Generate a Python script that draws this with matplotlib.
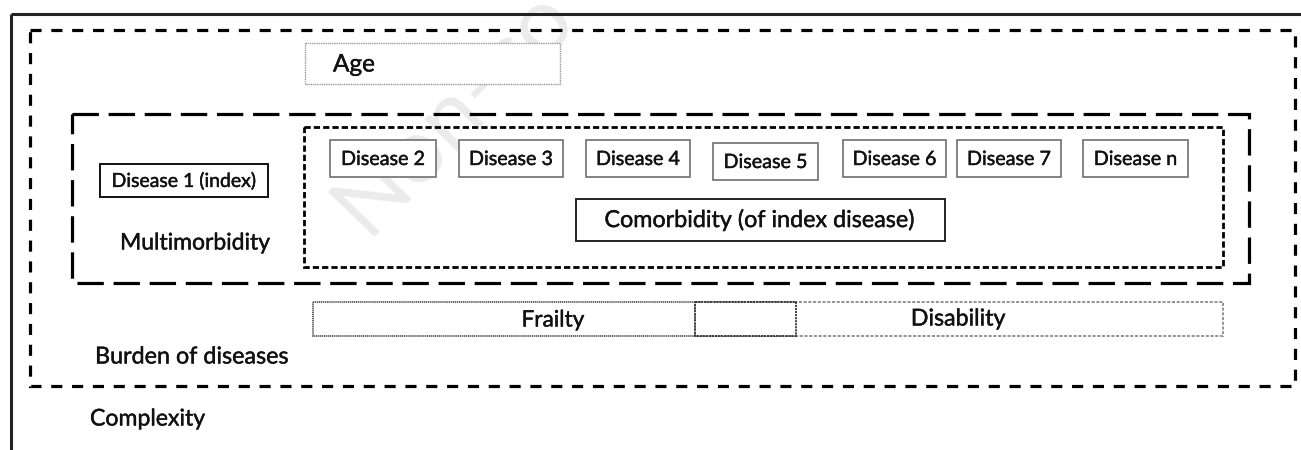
import matplotlib.pyplot as plt
import matplotlib.patheffects as pe
from matplotlib.patches import Rectangle

plt.rcParams['font.family'] = ['Lato', 'DejaVu Sans']
plt.rcParams['lines.scale_dashes'] = False

# labels
disease_labels = ['Disease 2', 'Disease 3', 'Disease 4', 'Disease 5',
                  'Disease 6', 'Disease 7', 'Disease n']
index_label = 'Disease 1 (index)'
comorb_label = 'Comorbidity (of index disease)'
group_labels = ['Multimorbidity', 'Burden of diseases', 'Complexity']
outcome_labels = ['Frailty', 'Disability']

# layout in pixels (x0, x1) / (y0, y1)
disease_x = [(330, 436), (459, 563), (586, 690), (713, 818),
             (843, 946), (957, 1061), (1083, 1188)]
disease_y = [(140, 177), (140, 177), (140, 177), (143, 180),
             (140, 177), (140, 177), (140, 177)]

fig = plt.figure(figsize=(13.01, 4.5), dpi=100)
ax = fig.add_axes([0, 0, 1, 1])
ax.set_xlim(0, 1301)
ax.set_ylim(450, 0)
ax.axis('off')

# slightly heavier strokes, like the blurry source text
heavy = [pe.withStroke(linewidth=0.3, foreground='#111111')]


def label(x, y, s, size, ha='center', z=5):
    ax.text(x, y, s, fontsize=size, ha=ha, va='center', color='#111111',
            zorder=z, path_effects=heavy)


def box(x0, y0, x1, y1, ec='black', lw=1.0, ls='-', z=2):
    r = Rectangle((x0, y0), x1 - x0, y1 - y0, facecolor='none', edgecolor=ec,
                  lw=lw, ls=ls, zorder=z, joinstyle='miter')
    ax.add_patch(r)


def filled(x0, y0, x1, y1, ec, lw, ls, z=3):
    r = Rectangle((x0, y0), x1 - x0, y1 - y0, facecolor='white', edgecolor=ec,
                  lw=lw, ls=ls, zorder=z)
    ax.add_patch(r)


# watermark, only its visible part
ax.text(318, 232, 'Non-co', rotation=46, fontsize=66,
        color='#ebebeb', ha='left', va='baseline', zorder=1)

# solid outer frame (top + left only visible)
ax.plot([11, 1301], [14, 14], color='#222222', lw=2.2, zorder=2,
        solid_capstyle='butt')
ax.plot([11, 11], [14, 450], color='#222222', lw=2.2, zorder=2,
        solid_capstyle='butt')

# burden of diseases
box(30, 30, 1295, 386, lw=2.3, ls=(0, (8, 7)))
# multimorbidity
box(72, 114, 1249, 283, lw=2.3, ls=(0, (19, 7)))
# comorbidity
box(304, 127, 1223, 267, lw=2.0, ls=(0, (4.5, 2.2)))

# age
filled(305, 43, 560, 84, '#9a9a9a', 1.0, (0, (1, 0.6)))
label(333, 65, 'Age', 17.5, ha='left')

# index disease
filled(100, 164, 268, 197, '#111111', 1.4, '-')
label(184, 181, index_label, 14)

for lab, (x0, x1), (y0, y1) in zip(disease_labels, disease_x, disease_y):
    filled(x0, y0, x1, y1, '#707070', 1.2, '-')
    label((x0 + x1) / 2, (y0 + y1) / 2 + 1, lab, 14.2)

filled(576, 199, 945, 241, '#222222', 1.4, '-')
label(760, 220, comorb_label, 16.8)

label(120, 243, group_labels[0], 16.5, ha='left')
label(95, 357, group_labels[1], 16.8, ha='left')
label(90, 419, group_labels[2], 16.6, ha='left')

# frailty / disability
filled(313, 302, 796, 336, '#555555', 1.3, (0, (0.9, 0.5)), z=3)
filled(695, 302, 1223, 336, '#8a8a8a', 1.3, (0, (2.2, 1.2)), z=3)
box(695, 302, 796, 336, ec='#333333', lw=1.3, ls=(0, (1.5, 0.7)), z=4)
label(553, 320, outcome_labels[0], 16.3)
label(958, 319, outcome_labels[1], 16.7)

fig.savefig('out.png', dpi=100)
